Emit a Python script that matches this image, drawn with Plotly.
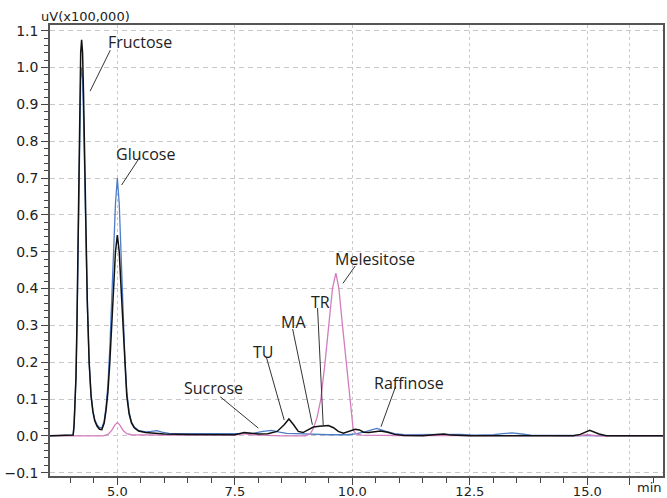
import plotly.graph_objects as go

# ---- data (time in min, signal in uV x 100,000) ----
black_t = [3.56, 4.00, 4.06, 4.08, 4.10, 4.12, 4.14, 4.16, 4.18, 4.20, 4.22, 4.24, 4.26, 4.28, 4.30,
           4.33, 4.36, 4.40, 4.44, 4.48, 4.52, 4.57, 4.62, 4.67, 4.72, 4.76, 4.80, 4.84, 4.88, 4.92,
           4.96, 5.00, 5.04, 5.08, 5.12, 5.16, 5.20, 5.25, 5.30, 5.36, 5.45, 5.60, 5.80, 6.00, 6.50,
           7.00, 7.20, 7.50, 7.70, 7.85, 8.00, 8.20, 8.40, 8.55, 8.65, 8.75, 8.85, 8.95, 9.05, 9.17,
           9.30, 9.49, 9.60, 9.70, 9.81, 9.92, 10.06, 10.15, 10.24, 10.35, 10.45, 10.60, 10.75, 10.90,
           11.10, 11.50, 11.80, 11.95, 12.10, 12.50, 14.70, 14.85, 15.05, 15.25, 15.40, 16.61]
black_v = [0.0, 0.0, 0.002, 0.03, 0.08, 0.16, 0.30, 0.50, 0.72, 0.92, 1.04, 1.075, 1.04, 0.93, 0.78,
           0.56, 0.37, 0.20, 0.11, 0.065, 0.04, 0.026, 0.018, 0.017, 0.035, 0.07, 0.12, 0.20, 0.30, 0.40,
           0.50, 0.545, 0.50, 0.40, 0.30, 0.19, 0.11, 0.06, 0.035, 0.022, 0.013, 0.009, 0.007, 0.005, 0.004,
           0.003, 0.002, 0.003, 0.009, 0.006, 0.005, 0.006, 0.012, 0.03, 0.046, 0.03, 0.012, 0.009, 0.015, 0.024,
           0.026, 0.028, 0.022, 0.012, 0.007, 0.011, 0.018, 0.016, 0.010, 0.009, 0.011, 0.013, 0.010, 0.004,
           0.001, 0.0, 0.004, 0.005, 0.002, 0.0, 0.0, 0.004, 0.015, 0.005, 0.0, 0.0]

blue_t = [3.56, 4.00, 4.06, 4.08, 4.10, 4.12, 4.14, 4.16, 4.18, 4.20, 4.22, 4.24, 4.26, 4.28, 4.30,
          4.33, 4.36, 4.40, 4.44, 4.48, 4.52, 4.57, 4.62, 4.67, 4.72, 4.76, 4.80, 4.84, 4.88, 4.92,
          4.96, 5.00, 5.04, 5.08, 5.12, 5.16, 5.20, 5.25, 5.30, 5.36, 5.45, 5.60, 5.72, 5.84, 5.95,
          6.10, 6.50, 7.00, 7.30, 7.60, 7.90, 8.10, 8.28, 8.45, 8.60, 8.80, 9.00, 9.50, 9.90, 10.10,
          10.30, 10.52, 10.70, 10.90, 11.10, 11.50, 12.00, 12.30, 12.60, 13.00, 13.20, 13.40, 13.60,
          13.80, 14.50, 16.61]
blue_v = [0.0, 0.0, 0.002, 0.03, 0.08, 0.16, 0.29, 0.47, 0.68, 0.86, 0.97, 1.0, 0.97, 0.87, 0.74,
          0.54, 0.36, 0.20, 0.11, 0.068, 0.044, 0.03, 0.022, 0.022, 0.04, 0.08, 0.14, 0.24, 0.36, 0.50,
          0.63, 0.70, 0.63, 0.49, 0.34, 0.21, 0.12, 0.065, 0.038, 0.024, 0.015, 0.011, 0.012, 0.014, 0.010,
          0.007, 0.006, 0.006, 0.005, 0.006, 0.007, 0.012, 0.015, 0.010, 0.007, 0.006, 0.005, 0.003, 0.003, 0.006,
          0.012, 0.020, 0.013, 0.006, 0.003, 0.004, 0.005, 0.004, 0.002, 0.003, 0.006, 0.008, 0.005,
          0.002, 0.001, 0.0]

pink_t = [3.56, 4.70, 4.80, 4.88, 4.95, 5.00, 5.05, 5.12, 5.20, 5.30, 6.00, 7.00, 7.50, 7.70, 7.85,
          8.50, 9.00, 9.10, 9.17, 9.25, 9.33, 9.42, 9.50, 9.577, 9.65, 9.714, 9.79, 9.87, 9.94, 9.98,
          10.02, 10.08, 10.20, 11.00, 14.80, 15.00, 15.20, 16.61]
pink_v = [0.0, 0.0, 0.004, 0.015, 0.03, 0.036, 0.03, 0.015, 0.006, 0.003, 0.002, 0.001, 0.002, 0.006, 0.003,
          0.0, 0.0, 0.005, 0.02, 0.05, 0.10, 0.20, 0.30, 0.40, 0.442, 0.40, 0.30, 0.20, 0.10, 0.05,
          0.015, 0.005, 0.002, 0.001, 0.0, 0.003, 0.0, 0.0]

# peak labels: text, text position (t, v), leader line start (t, v), leader line end (t, v)
peak_names = ["Fructose", "Glucose", "Sucrose", "TU", "MA", "TR", "Melesitose", "Raffinose"]
label_t = [5.49, 5.59, 7.04, 8.09, 8.74, 9.32, 10.49, 11.21]
label_v = [1.069, 0.766, 0.130, 0.229, 0.310, 0.363, 0.480, 0.143]
lead_t0 = [4.85, 5.45, 7.19, 8.17, 8.73, 9.26, 10.06, 10.92]
lead_v0 = [1.047, 0.751, 0.106, 0.214, 0.290, 0.347, 0.461, 0.134]
lead_t1 = [4.42, 5.09, 8.00, 8.55, 9.15, 9.38, 9.80, 10.61]
lead_v1 = [0.936, 0.681, 0.021, 0.043, 0.030, 0.029, 0.414, 0.025]

x_major = [5.0, 7.5, 10.0, 12.5, 15.0, 15.9]
x_major_text = ["5.0", "7.5", "10.0", "12.5", "15.0", ""]
x_minor = [4.0, 4.5, 5.5, 6.0, 6.5, 7.0, 8.0, 8.5, 9.0, 9.5, 10.5, 11.0, 11.5, 12.0,
           13.0, 13.5, 14.0, 14.5, 16.4]
y_major = [-0.1, 0.0, 0.1, 0.2, 0.3, 0.4, 0.5, 0.6, 0.7, 0.8, 0.9, 1.0, 1.1]

fig = go.Figure()
fig.add_trace(go.Scatter(x=blue_t, y=blue_v, mode="lines",
                         line=dict(color="#4d7cc6", width=1.3), showlegend=False))
fig.add_trace(go.Scatter(x=pink_t, y=pink_v, mode="lines",
                         line=dict(color="#d47cbf", width=1.3), showlegend=False))
fig.add_trace(go.Scatter(x=black_t, y=black_v, mode="lines",
                         line=dict(color="#111111", width=1.5), showlegend=False))

label_font = dict(family="Open Sans", size=16, color="#222222")
for name, tx, ty, a0, b0, a1, b1 in zip(peak_names, label_t, label_v, lead_t0, lead_v0, lead_t1, lead_v1):
    fig.add_annotation(x=tx, y=ty, text=name, showarrow=False, font=label_font,
                       xanchor="center", yanchor="middle")
    fig.add_shape(type="line", x0=a0, y0=b0, x1=a1, y1=b1,
                  line=dict(color="#333333", width=1))

tick_font = dict(family="DejaVu Sans", size=14, color="#222222")
xtick_font = dict(family="DejaVu Sans", size=13, color="#222222")
fig.add_annotation(xref="paper", yref="paper", x=-0.018, y=1.018, text="uV(x100,000)",
                   showarrow=False, xanchor="left", yanchor="middle",
                   font=dict(family="DejaVu Sans", size=13, color="#222222"))
fig.add_annotation(xref="x", yref="paper", x=16.32, y=-0.026, text="min",
                   showarrow=False, xanchor="center", yanchor="middle", font=xtick_font)

fig.update_layout(
    width=667, height=498,
    margin=dict(l=50, r=4, t=25, b=22),
    paper_bgcolor="white", plot_bgcolor="white",
    showlegend=False,
)
fig.update_xaxes(
    range=[3.567, 16.61], automargin=False,
    tickmode="array", tickvals=x_major, ticktext=x_major_text,
    ticks="outside", ticklen=7, tickwidth=1.2, tickcolor="#444444",
    tickfont=xtick_font, ticklabelstandoff=-4,
    showline=True, linecolor="#555555", linewidth=1.5, mirror=True,
    showgrid=True, gridcolor="#c8c8c8", gridwidth=1, griddash="3px,3px",
    zeroline=False,
    minor=dict(tickmode="array", tickvals=x_minor, ticks="outside", ticklen=5,
               tickcolor="#444444", tickwidth=1.2, showgrid=False),
)
fig.update_yaxes(
    range=[-0.109, 1.1155], automargin=False,
    tickmode="array", tickvals=y_major, tickformat=".1f",
    ticks="outside", ticklen=7, tickwidth=1.2, tickcolor="#444444",
    tickfont=tick_font,
    showline=True, linecolor="#555555", linewidth=1.5, mirror=True,
    showgrid=True, gridcolor="#c8c8c8", gridwidth=1, griddash="5px,4px",
    zeroline=False,
    minor=dict(dtick=0.02, tick0=0, ticks="outside", ticklen=4,
               tickcolor="#444444", tickwidth=1.2, showgrid=False),
)

# remove the browser's default 8px page margin so the figure fills the window exactly
fig.write_html("out.html", config={"displayModeBar": False},
               post_script="document.body.style.margin='0';")
